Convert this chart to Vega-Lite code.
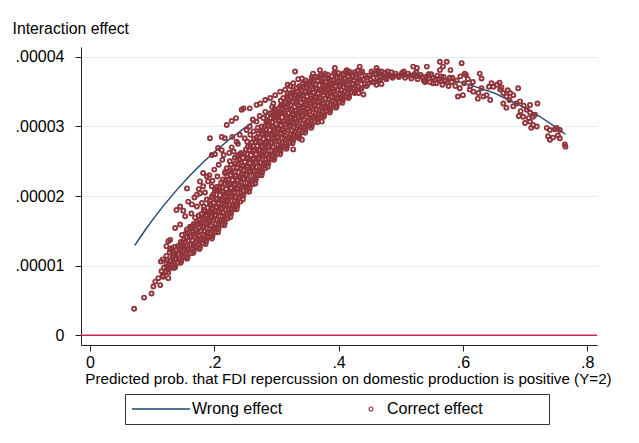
{
"$schema":"https://vega.github.io/schema/vega-lite/v6.json",
"width":516,"height":298,
"autosize":{"type":"none"},
"padding":{"left":81,"top":47,"right":42,"bottom":98},
"background":"white",
"config":{"view":{"stroke":null},"font":"Liberation Sans"},
"datasets":{
"wrong":[
{"p":0.072,"e":1.290e-5},{"p":0.08,"e":1.397e-5},{"p":0.09,"e":1.526e-5},{"p":0.10,"e":1.650e-5},{"p":0.12,"e":1.880e-5},{"p":0.14,"e":2.092e-5},{"p":0.16,"e":2.287e-5},{"p":0.18,"e":2.466e-5},{"p":0.20,"e":2.632e-5},{"p":0.225,"e":2.819e-5},{"p":0.25,"e":2.987e-5},{"p":0.275,"e":3.136e-5},{"p":0.30,"e":3.268e-5},{"p":0.35,"e":3.482e-5},{"p":0.40,"e":3.631e-5},{"p":0.45,"e":3.721e-5},{"p":0.50,"e":3.750e-5},{"p":0.55,"e":3.721e-5},{"p":0.60,"e":3.631e-5},{"p":0.65,"e":3.482e-5},{"p":0.70,"e":3.268e-5},{"p":0.725,"e":3.136e-5},{"p":0.75,"e":2.987e-5},{"p":0.765,"e":2.888e-5}
],
"correct":[
{"p":0.071,"e":0.38e-5},{"p":0.087,"e":0.54e-5},{"p":0.099,"e":0.60e-5},{"p":0.102,"e":0.70e-5},{"p":0.105,"e":0.77e-5},{"p":0.110,"e":0.82e-5},{"p":0.113,"e":0.72e-5},{"p":0.115,"e":0.92e-5},{"p":0.118,"e":0.84e-5},{"p":0.126,"e":0.82e-5},{"p":0.117,"e":1.09e-5},{"p":0.114,"e":1.06e-5},{"p":0.134,"e":0.97e-5},{"p":0.129,"e":1.23e-5},{"p":0.137,"e":1.18e-5},{"p":0.123,"e":1.28e-5},{"p":0.126,"e":1.35e-5},{"p":0.129,"e":1.37e-5},{"p":0.145,"e":1.25e-5},{"p":0.150,"e":1.28e-5},
{"p":0.139,"e":1.80e-5},{"p":0.145,"e":1.85e-5},{"p":0.150,"e":1.79e-5},{"p":0.137,"e":1.54e-5},{"p":0.148,"e":1.44e-5},{"p":0.156,"e":1.52e-5},{"p":0.161,"e":1.56e-5},{"p":0.145,"e":1.59e-5},{"p":0.153,"e":1.71e-5},{"p":0.164,"e":1.88e-5},{"p":0.172,"e":1.85e-5},{"p":0.158,"e":1.92e-5},{"p":0.172,"e":2.02e-5},{"p":0.177,"e":2.04e-5},{"p":0.156,"e":2.11e-5},{"p":0.182,"e":2.33e-5},{"p":0.188,"e":2.28e-5},{"p":0.190,"e":2.21e-5},{"p":0.177,"e":2.21e-5},{"p":0.182,"e":2.14e-5},{"p":0.196,"e":2.14e-5},{"p":0.204,"e":2.09e-5},
{"p":0.193,"e":2.83e-5},{"p":0.212,"e":2.85e-5},{"p":0.217,"e":2.83e-5},{"p":0.220,"e":3.02e-5},{"p":0.228,"e":3.08e-5},{"p":0.235,"e":3.12e-5},{"p":0.244,"e":3.24e-5},{"p":0.247,"e":3.26e-5},{"p":0.257,"e":3.26e-5},{"p":0.268,"e":3.31e-5},{"p":0.274,"e":3.33e-5},{"p":0.282,"e":3.38e-5},{"p":0.290,"e":3.41e-5},{"p":0.298,"e":3.45e-5},{"p":0.306,"e":3.50e-5},{"p":0.314,"e":3.53e-5},
{"p":0.196,"e":2.59e-5},{"p":0.201,"e":2.60e-5},{"p":0.206,"e":2.69e-5},{"p":0.212,"e":2.66e-5},{"p":0.215,"e":2.59e-5},{"p":0.225,"e":2.50e-5},{"p":0.220,"e":2.40e-5},{"p":0.231,"e":2.64e-5},{"p":0.239,"e":2.59e-5},{"p":0.236,"e":2.78e-5},{"p":0.241,"e":2.88e-5},{"p":0.249,"e":2.83e-5},{"p":0.252,"e":2.95e-5},{"p":0.257,"e":3.00e-5},{"p":0.263,"e":2.93e-5},{"p":0.268,"e":3.07e-5},{"p":0.276,"e":3.00e-5},{"p":0.279,"e":3.12e-5},{"p":0.284,"e":3.07e-5},{"p":0.290,"e":3.19e-5},{"p":0.282,"e":3.21e-5},{"p":0.298,"e":3.24e-5},{"p":0.300,"e":3.14e-5},{"p":0.308,"e":3.31e-5},{"p":0.311,"e":3.41e-5},{"p":0.295,"e":3.33e-5},
{"p":0.163,"e":1.75e-5},{"p":0.168,"e":1.98e-5},{"p":0.175,"e":2.10e-5},{"p":0.180,"e":1.90e-5},{"p":0.185,"e":2.05e-5},{"p":0.192,"e":2.30e-5},{"p":0.197,"e":2.22e-5},{"p":0.200,"e":2.38e-5},{"p":0.205,"e":2.28e-5},{"p":0.207,"e":2.45e-5},{"p":0.213,"e":2.52e-5},{"p":0.218,"e":2.35e-5},{"p":0.224,"e":2.62e-5},{"p":0.228,"e":2.70e-5},{"p":0.233,"e":2.55e-5},{"p":0.238,"e":2.75e-5},{"p":0.243,"e":2.62e-5},{"p":0.229,"e":2.85e-5},{"p":0.253,"e":2.78e-5},{"p":0.258,"e":2.88e-5},{"p":0.262,"e":3.10e-5},{"p":0.270,"e":2.98e-5},{"p":0.273,"e":3.15e-5},{"p":0.286,"e":3.15e-5},{"p":0.293,"e":3.28e-5},{"p":0.303,"e":3.20e-5},{"p":0.318,"e":3.48e-5},{"p":0.322,"e":3.58e-5},{"p":0.327,"e":3.62e-5},{"p":0.335,"e":3.68e-5},{"p":0.318,"e":3.60e-5},
{"p":0.330,"e":3.79e-5},{"p":0.341,"e":3.69e-5},{"p":0.359,"e":3.76e-5},{"p":0.370,"e":3.81e-5},{"p":0.394,"e":3.84e-5},{"p":0.413,"e":3.81e-5},{"p":0.434,"e":3.86e-5},{"p":0.461,"e":3.84e-5},{"p":0.520,"e":3.86e-5},{"p":0.526,"e":3.84e-5},{"p":0.542,"e":3.86e-5},{"p":0.563,"e":3.93e-5},{"p":0.574,"e":3.93e-5},{"p":0.568,"e":3.86e-5},{"p":0.598,"e":3.91e-5},{"p":0.563,"e":3.81e-5},{"p":0.580,"e":3.81e-5},
{"p":0.432,"e":3.48e-5},{"p":0.440,"e":3.46e-5},{"p":0.461,"e":3.60e-5},{"p":0.469,"e":3.61e-5},{"p":0.341,"e":2.81e-5},{"p":0.327,"e":2.67e-5},{"p":0.373,"e":3.07e-5},{"p":0.386,"e":3.24e-5},{"p":0.539,"e":3.64e-5},{"p":0.552,"e":3.62e-5},
{"p":0.583,"e":3.70e-5},{"p":0.590,"e":3.66e-5},{"p":0.596,"e":3.72e-5},{"p":0.602,"e":3.62e-5},{"p":0.608,"e":3.68e-5},{"p":0.612,"e":3.58e-5},{"p":0.616,"e":3.64e-5},{"p":0.588,"e":3.58e-5},{"p":0.595,"e":3.55e-5},{"p":0.605,"e":3.74e-5},{"p":0.603,"e":3.76e-5},{"p":0.592,"e":3.43e-5},{"p":0.600,"e":3.45e-5},{"p":0.627,"e":3.76e-5},{"p":0.630,"e":3.69e-5},
{"p":0.611,"e":3.53e-5},{"p":0.617,"e":3.50e-5},{"p":0.625,"e":3.48e-5},{"p":0.630,"e":3.55e-5},{"p":0.633,"e":3.43e-5},{"p":0.638,"e":3.45e-5},{"p":0.644,"e":3.38e-5},{"p":0.624,"e":3.40e-5},{"p":0.642,"e":3.57e-5},{"p":0.646,"e":3.62e-5},{"p":0.649,"e":3.57e-5},{"p":0.659,"e":3.63e-5},{"p":0.655,"e":3.60e-5},
{"p":0.660,"e":3.53e-5},{"p":0.665,"e":3.48e-5},{"p":0.670,"e":3.43e-5},{"p":0.676,"e":3.48e-5},{"p":0.681,"e":3.45e-5},{"p":0.662,"e":3.56e-5},{"p":0.672,"e":3.52e-5},{"p":0.665,"e":3.33e-5},{"p":0.670,"e":3.27e-5},{"p":0.681,"e":3.29e-5},{"p":0.686,"e":3.33e-5},{"p":0.692,"e":3.36e-5},{"p":0.675,"e":3.38e-5},{"p":0.689,"e":3.55e-5},
{"p":0.693,"e":3.22e-5},{"p":0.698,"e":3.30e-5},{"p":0.703,"e":3.24e-5},{"p":0.708,"e":3.31e-5},{"p":0.708,"e":3.20e-5},{"p":0.720,"e":3.33e-5},{"p":0.690,"e":3.15e-5},{"p":0.697,"e":3.14e-5},{"p":0.700,"e":3.05e-5},{"p":0.706,"e":3.12e-5},{"p":0.708,"e":3.07e-5},{"p":0.713,"e":3.02e-5},{"p":0.713,"e":3.14e-5},{"p":0.716,"e":3.17e-5},{"p":0.719,"e":3.00e-5},{"p":0.710,"e":2.98e-5},
{"p":0.735,"e":2.98e-5},{"p":0.740,"e":2.95e-5},{"p":0.751,"e":2.98e-5},{"p":0.756,"e":2.95e-5},{"p":0.737,"e":2.86e-5},{"p":0.745,"e":2.84e-5},{"p":0.753,"e":2.87e-5},{"p":0.756,"e":2.83e-5},{"p":0.764,"e":2.74e-5},{"p":0.765,"e":2.71e-5},{"p":0.740,"e":2.81e-5},{"p":0.748,"e":2.96e-5},
{"p":0.117,"e":0.85e-5},{"p":0.122,"e":0.91e-5},{"p":0.119,"e":0.97e-5},{"p":0.123,"e":1.03e-5},
{"p":0.127,"e":0.95e-5},{"p":0.132,"e":1.01e-5},{"p":0.129,"e":1.07e-5},{"p":0.133,"e":1.13e-5},{"p":0.128,"e":1.19e-5},{"p":0.131,"e":1.25e-5},
{"p":0.137,"e":0.98e-5},{"p":0.142,"e":1.04e-5},{"p":0.139,"e":1.10e-5},{"p":0.143,"e":1.16e-5},{"p":0.138,"e":1.22e-5},{"p":0.141,"e":1.28e-5},
{"p":0.147,"e":1.07e-5},{"p":0.152,"e":1.13e-5},{"p":0.149,"e":1.19e-5},{"p":0.153,"e":1.25e-5},{"p":0.148,"e":1.31e-5},{"p":0.151,"e":1.37e-5},
{"p":0.157,"e":1.12e-5},{"p":0.162,"e":1.18e-5},{"p":0.159,"e":1.24e-5},{"p":0.163,"e":1.30e-5},{"p":0.158,"e":1.36e-5},{"p":0.161,"e":1.42e-5},{"p":0.157,"e":1.48e-5},{"p":0.162,"e":1.54e-5},
{"p":0.167,"e":1.21e-5},{"p":0.172,"e":1.27e-5},{"p":0.169,"e":1.33e-5},{"p":0.173,"e":1.39e-5},{"p":0.168,"e":1.45e-5},{"p":0.171,"e":1.51e-5},{"p":0.167,"e":1.57e-5},{"p":0.172,"e":1.63e-5},{"p":0.169,"e":1.69e-5},
{"p":0.177,"e":1.26e-5},{"p":0.182,"e":1.32e-5},{"p":0.179,"e":1.38e-5},{"p":0.183,"e":1.44e-5},{"p":0.178,"e":1.50e-5},{"p":0.181,"e":1.56e-5},{"p":0.177,"e":1.62e-5},{"p":0.182,"e":1.68e-5},{"p":0.179,"e":1.74e-5},{"p":0.183,"e":1.80e-5},
{"p":0.187,"e":1.35e-5},{"p":0.192,"e":1.41e-5},{"p":0.189,"e":1.47e-5},{"p":0.193,"e":1.53e-5},{"p":0.188,"e":1.59e-5},{"p":0.191,"e":1.65e-5},{"p":0.187,"e":1.71e-5},{"p":0.192,"e":1.77e-5},{"p":0.189,"e":1.83e-5},{"p":0.193,"e":1.89e-5},{"p":0.188,"e":1.95e-5},
{"p":0.197,"e":1.42e-5},{"p":0.202,"e":1.48e-5},{"p":0.199,"e":1.54e-5},{"p":0.203,"e":1.60e-5},{"p":0.198,"e":1.66e-5},{"p":0.201,"e":1.72e-5},{"p":0.197,"e":1.78e-5},{"p":0.202,"e":1.84e-5},{"p":0.199,"e":1.90e-5},{"p":0.203,"e":1.96e-5},{"p":0.198,"e":2.02e-5},{"p":0.201,"e":2.08e-5},
{"p":0.207,"e":1.53e-5},{"p":0.212,"e":1.59e-5},{"p":0.209,"e":1.65e-5},{"p":0.213,"e":1.71e-5},{"p":0.208,"e":1.77e-5},{"p":0.211,"e":1.83e-5},{"p":0.207,"e":1.89e-5},{"p":0.212,"e":1.95e-5},{"p":0.209,"e":2.01e-5},{"p":0.213,"e":2.07e-5},{"p":0.208,"e":2.13e-5},{"p":0.211,"e":2.19e-5},
{"p":0.217,"e":1.62e-5},{"p":0.222,"e":1.68e-5},{"p":0.219,"e":1.74e-5},{"p":0.223,"e":1.80e-5},{"p":0.218,"e":1.86e-5},{"p":0.221,"e":1.92e-5},{"p":0.217,"e":1.98e-5},{"p":0.222,"e":2.04e-5},{"p":0.219,"e":2.10e-5},{"p":0.223,"e":2.16e-5},{"p":0.218,"e":2.22e-5},{"p":0.221,"e":2.28e-5},{"p":0.217,"e":2.33e-5},
{"p":0.227,"e":1.75e-5},{"p":0.232,"e":1.81e-5},{"p":0.229,"e":1.87e-5},{"p":0.233,"e":1.93e-5},{"p":0.228,"e":1.99e-5},{"p":0.231,"e":2.05e-5},{"p":0.227,"e":2.11e-5},{"p":0.232,"e":2.17e-5},{"p":0.229,"e":2.23e-5},{"p":0.233,"e":2.29e-5},{"p":0.228,"e":2.35e-5},{"p":0.231,"e":2.41e-5},{"p":0.227,"e":2.45e-5},
{"p":0.237,"e":1.86e-5},{"p":0.242,"e":1.92e-5},{"p":0.239,"e":1.98e-5},{"p":0.243,"e":2.04e-5},{"p":0.238,"e":2.10e-5},{"p":0.241,"e":2.16e-5},{"p":0.237,"e":2.22e-5},{"p":0.242,"e":2.28e-5},{"p":0.239,"e":2.34e-5},{"p":0.243,"e":2.40e-5},{"p":0.238,"e":2.46e-5},{"p":0.241,"e":2.52e-5},{"p":0.237,"e":2.57e-5},
{"p":0.247,"e":2.01e-5},{"p":0.252,"e":2.07e-5},{"p":0.249,"e":2.13e-5},{"p":0.253,"e":2.19e-5},{"p":0.248,"e":2.25e-5},{"p":0.251,"e":2.31e-5},{"p":0.247,"e":2.37e-5},{"p":0.252,"e":2.43e-5},{"p":0.249,"e":2.49e-5},{"p":0.253,"e":2.55e-5},{"p":0.248,"e":2.61e-5},{"p":0.251,"e":2.67e-5},
{"p":0.257,"e":2.11e-5},{"p":0.262,"e":2.17e-5},{"p":0.259,"e":2.23e-5},{"p":0.263,"e":2.29e-5},{"p":0.258,"e":2.35e-5},{"p":0.261,"e":2.41e-5},{"p":0.257,"e":2.47e-5},{"p":0.262,"e":2.53e-5},{"p":0.259,"e":2.59e-5},{"p":0.263,"e":2.65e-5},{"p":0.258,"e":2.71e-5},{"p":0.261,"e":2.77e-5},
{"p":0.267,"e":2.24e-5},{"p":0.272,"e":2.30e-5},{"p":0.269,"e":2.36e-5},{"p":0.273,"e":2.42e-5},{"p":0.268,"e":2.48e-5},{"p":0.271,"e":2.54e-5},{"p":0.267,"e":2.60e-5},{"p":0.272,"e":2.66e-5},{"p":0.269,"e":2.72e-5},{"p":0.273,"e":2.78e-5},{"p":0.268,"e":2.84e-5},{"p":0.271,"e":2.90e-5},
{"p":0.277,"e":2.34e-5},{"p":0.282,"e":2.40e-5},{"p":0.279,"e":2.46e-5},{"p":0.283,"e":2.52e-5},{"p":0.278,"e":2.58e-5},{"p":0.281,"e":2.64e-5},{"p":0.277,"e":2.70e-5},{"p":0.282,"e":2.76e-5},{"p":0.279,"e":2.82e-5},{"p":0.283,"e":2.88e-5},{"p":0.278,"e":2.94e-5},{"p":0.281,"e":3.00e-5},
{"p":0.287,"e":2.47e-5},{"p":0.292,"e":2.53e-5},{"p":0.289,"e":2.59e-5},{"p":0.293,"e":2.65e-5},{"p":0.288,"e":2.71e-5},{"p":0.291,"e":2.77e-5},{"p":0.287,"e":2.83e-5},{"p":0.292,"e":2.89e-5},{"p":0.289,"e":2.95e-5},{"p":0.293,"e":3.01e-5},{"p":0.288,"e":3.07e-5},{"p":0.291,"e":3.12e-5},
{"p":0.297,"e":2.55e-5},{"p":0.302,"e":2.61e-5},{"p":0.299,"e":2.67e-5},{"p":0.303,"e":2.73e-5},{"p":0.298,"e":2.79e-5},{"p":0.301,"e":2.85e-5},{"p":0.297,"e":2.91e-5},{"p":0.302,"e":2.97e-5},{"p":0.299,"e":3.03e-5},{"p":0.303,"e":3.09e-5},{"p":0.298,"e":3.15e-5},{"p":0.301,"e":3.21e-5},{"p":0.297,"e":3.25e-5},
{"p":0.307,"e":2.65e-5},{"p":0.312,"e":2.71e-5},{"p":0.309,"e":2.77e-5},{"p":0.313,"e":2.83e-5},{"p":0.308,"e":2.89e-5},{"p":0.311,"e":2.95e-5},{"p":0.307,"e":3.01e-5},{"p":0.312,"e":3.07e-5},{"p":0.309,"e":3.13e-5},{"p":0.313,"e":3.19e-5},{"p":0.308,"e":3.25e-5},{"p":0.311,"e":3.31e-5},{"p":0.307,"e":3.37e-5},
{"p":0.317,"e":2.71e-5},{"p":0.322,"e":2.77e-5},{"p":0.319,"e":2.83e-5},{"p":0.323,"e":2.89e-5},{"p":0.318,"e":2.95e-5},{"p":0.321,"e":3.01e-5},{"p":0.317,"e":3.07e-5},{"p":0.322,"e":3.13e-5},{"p":0.319,"e":3.19e-5},{"p":0.323,"e":3.25e-5},{"p":0.318,"e":3.31e-5},{"p":0.321,"e":3.37e-5},{"p":0.317,"e":3.43e-5},{"p":0.322,"e":3.47e-5},
{"p":0.327,"e":2.80e-5},{"p":0.332,"e":2.86e-5},{"p":0.329,"e":2.92e-5},{"p":0.333,"e":2.98e-5},{"p":0.328,"e":3.04e-5},{"p":0.331,"e":3.10e-5},{"p":0.327,"e":3.16e-5},{"p":0.332,"e":3.22e-5},{"p":0.329,"e":3.28e-5},{"p":0.333,"e":3.34e-5},{"p":0.328,"e":3.40e-5},{"p":0.331,"e":3.46e-5},{"p":0.327,"e":3.52e-5},{"p":0.332,"e":3.55e-5},
{"p":0.337,"e":2.86e-5},{"p":0.342,"e":2.92e-5},{"p":0.339,"e":2.98e-5},{"p":0.343,"e":3.04e-5},{"p":0.338,"e":3.10e-5},{"p":0.341,"e":3.16e-5},{"p":0.337,"e":3.22e-5},{"p":0.342,"e":3.28e-5},{"p":0.339,"e":3.34e-5},{"p":0.343,"e":3.40e-5},{"p":0.338,"e":3.46e-5},{"p":0.341,"e":3.52e-5},{"p":0.337,"e":3.58e-5},{"p":0.342,"e":3.61e-5},
{"p":0.347,"e":2.95e-5},{"p":0.352,"e":3.01e-5},{"p":0.349,"e":3.07e-5},{"p":0.353,"e":3.13e-5},{"p":0.348,"e":3.19e-5},{"p":0.351,"e":3.25e-5},{"p":0.347,"e":3.31e-5},{"p":0.352,"e":3.37e-5},{"p":0.349,"e":3.43e-5},{"p":0.353,"e":3.49e-5},{"p":0.348,"e":3.55e-5},{"p":0.351,"e":3.61e-5},{"p":0.347,"e":3.66e-5},
{"p":0.357,"e":3.01e-5},{"p":0.362,"e":3.07e-5},{"p":0.359,"e":3.13e-5},{"p":0.363,"e":3.19e-5},{"p":0.358,"e":3.25e-5},{"p":0.361,"e":3.31e-5},{"p":0.357,"e":3.37e-5},{"p":0.362,"e":3.43e-5},{"p":0.359,"e":3.49e-5},{"p":0.363,"e":3.55e-5},{"p":0.358,"e":3.61e-5},{"p":0.361,"e":3.67e-5},{"p":0.357,"e":3.71e-5},
{"p":0.367,"e":3.11e-5},{"p":0.372,"e":3.17e-5},{"p":0.369,"e":3.23e-5},{"p":0.373,"e":3.29e-5},{"p":0.368,"e":3.35e-5},{"p":0.371,"e":3.41e-5},{"p":0.367,"e":3.47e-5},{"p":0.372,"e":3.53e-5},{"p":0.369,"e":3.59e-5},{"p":0.373,"e":3.65e-5},{"p":0.368,"e":3.71e-5},{"p":0.371,"e":3.74e-5},
{"p":0.377,"e":3.16e-5},{"p":0.382,"e":3.22e-5},{"p":0.379,"e":3.28e-5},{"p":0.383,"e":3.34e-5},{"p":0.378,"e":3.40e-5},{"p":0.381,"e":3.46e-5},{"p":0.377,"e":3.52e-5},{"p":0.382,"e":3.58e-5},{"p":0.379,"e":3.64e-5},{"p":0.383,"e":3.70e-5},{"p":0.378,"e":3.76e-5},
{"p":0.387,"e":3.24e-5},{"p":0.392,"e":3.30e-5},{"p":0.389,"e":3.36e-5},{"p":0.393,"e":3.42e-5},{"p":0.388,"e":3.48e-5},{"p":0.391,"e":3.54e-5},{"p":0.387,"e":3.60e-5},{"p":0.392,"e":3.66e-5},{"p":0.389,"e":3.72e-5},{"p":0.393,"e":3.77e-5},
{"p":0.397,"e":3.29e-5},{"p":0.402,"e":3.35e-5},{"p":0.399,"e":3.41e-5},{"p":0.403,"e":3.47e-5},{"p":0.398,"e":3.53e-5},{"p":0.401,"e":3.59e-5},{"p":0.397,"e":3.65e-5},{"p":0.402,"e":3.71e-5},{"p":0.399,"e":3.77e-5},
{"p":0.407,"e":3.38e-5},{"p":0.412,"e":3.44e-5},{"p":0.409,"e":3.50e-5},{"p":0.413,"e":3.56e-5},{"p":0.408,"e":3.62e-5},{"p":0.411,"e":3.68e-5},{"p":0.407,"e":3.74e-5},{"p":0.412,"e":3.79e-5},
{"p":0.417,"e":3.43e-5},{"p":0.422,"e":3.49e-5},{"p":0.419,"e":3.55e-5},{"p":0.423,"e":3.61e-5},{"p":0.418,"e":3.67e-5},{"p":0.421,"e":3.73e-5},{"p":0.417,"e":3.79e-5},
{"p":0.427,"e":3.51e-5},{"p":0.432,"e":3.57e-5},{"p":0.429,"e":3.63e-5},{"p":0.433,"e":3.69e-5},{"p":0.428,"e":3.75e-5},{"p":0.431,"e":3.80e-5},
{"p":0.437,"e":3.55e-5},{"p":0.442,"e":3.61e-5},{"p":0.439,"e":3.67e-5},{"p":0.443,"e":3.73e-5},{"p":0.438,"e":3.79e-5},
{"p":0.447,"e":3.61e-5},{"p":0.452,"e":3.67e-5},{"p":0.449,"e":3.73e-5},{"p":0.453,"e":3.79e-5},
{"p":0.457,"e":3.63e-5},{"p":0.462,"e":3.69e-5},{"p":0.459,"e":3.75e-5},{"p":0.463,"e":3.80e-5},
{"p":0.467,"e":3.67e-5},{"p":0.472,"e":3.73e-5},{"p":0.469,"e":3.79e-5},
{"p":0.477,"e":3.68e-5},{"p":0.482,"e":3.74e-5},{"p":0.479,"e":3.79e-5},
{"p":0.487,"e":3.70e-5},{"p":0.492,"e":3.76e-5},{"p":0.497,"e":3.71e-5},{"p":0.502,"e":3.77e-5},{"p":0.507,"e":3.70e-5},{"p":0.512,"e":3.76e-5},{"p":0.517,"e":3.69e-5},{"p":0.522,"e":3.75e-5},{"p":0.527,"e":3.68e-5},{"p":0.532,"e":3.74e-5},{"p":0.537,"e":3.66e-5},{"p":0.542,"e":3.72e-5},
{"p":0.547,"e":3.64e-5},{"p":0.552,"e":3.70e-5},{"p":0.549,"e":3.75e-5},{"p":0.557,"e":3.62e-5},{"p":0.562,"e":3.68e-5},{"p":0.559,"e":3.73e-5},{"p":0.567,"e":3.60e-5},{"p":0.572,"e":3.66e-5},{"p":0.569,"e":3.71e-5},{"p":0.577,"e":3.58e-5},{"p":0.582,"e":3.64e-5},{"p":0.579,"e":3.70e-5},
{"p":0.435,"e":3.54e-5},{"p":0.435,"e":3.66e-5},{"p":0.435,"e":3.77e-5},{"p":0.445,"e":3.58e-5},{"p":0.445,"e":3.70e-5},{"p":0.455,"e":3.64e-5},{"p":0.455,"e":3.76e-5},{"p":0.465,"e":3.66e-5},{"p":0.465,"e":3.78e-5},{"p":0.475,"e":3.70e-5},{"p":0.475,"e":3.77e-5},{"p":0.485,"e":3.72e-5},{"p":0.485,"e":3.78e-5},{"p":0.495,"e":3.73e-5},{"p":0.505,"e":3.74e-5},{"p":0.505,"e":3.79e-5},{"p":0.515,"e":3.73e-5},{"p":0.525,"e":3.72e-5},{"p":0.525,"e":3.78e-5},{"p":0.535,"e":3.71e-5},{"p":0.545,"e":3.69e-5},{"p":0.545,"e":3.75e-5},{"p":0.555,"e":3.67e-5},{"p":0.565,"e":3.65e-5},{"p":0.565,"e":3.72e-5},{"p":0.575,"e":3.63e-5},
{"p":0.126,"e":0.90e-5},{"p":0.124,"e":0.96e-5},{"p":0.127,"e":1.02e-5},{"p":0.125,"e":1.08e-5},{"p":0.123,"e":1.14e-5},
{"p":0.136,"e":0.97e-5},{"p":0.134,"e":1.03e-5},{"p":0.137,"e":1.09e-5},{"p":0.135,"e":1.15e-5},{"p":0.133,"e":1.21e-5},{"p":0.136,"e":1.27e-5},
{"p":0.146,"e":1.04e-5},{"p":0.144,"e":1.10e-5},{"p":0.147,"e":1.16e-5},{"p":0.145,"e":1.22e-5},{"p":0.143,"e":1.28e-5},{"p":0.146,"e":1.34e-5},
{"p":0.156,"e":1.10e-5},{"p":0.154,"e":1.16e-5},{"p":0.157,"e":1.22e-5},{"p":0.155,"e":1.28e-5},{"p":0.153,"e":1.34e-5},{"p":0.156,"e":1.40e-5},{"p":0.154,"e":1.46e-5},
{"p":0.166,"e":1.18e-5},{"p":0.164,"e":1.24e-5},{"p":0.167,"e":1.30e-5},{"p":0.165,"e":1.36e-5},{"p":0.163,"e":1.42e-5},{"p":0.166,"e":1.48e-5},{"p":0.164,"e":1.54e-5},{"p":0.167,"e":1.60e-5},
{"p":0.176,"e":1.24e-5},{"p":0.174,"e":1.30e-5},{"p":0.177,"e":1.36e-5},{"p":0.175,"e":1.42e-5},{"p":0.173,"e":1.48e-5},{"p":0.176,"e":1.54e-5},{"p":0.174,"e":1.60e-5},{"p":0.177,"e":1.66e-5},{"p":0.175,"e":1.72e-5},
{"p":0.186,"e":1.31e-5},{"p":0.184,"e":1.37e-5},{"p":0.187,"e":1.43e-5},{"p":0.185,"e":1.49e-5},{"p":0.183,"e":1.55e-5},{"p":0.186,"e":1.61e-5},{"p":0.184,"e":1.67e-5},{"p":0.187,"e":1.73e-5},{"p":0.185,"e":1.79e-5},{"p":0.183,"e":1.85e-5},
{"p":0.196,"e":1.39e-5},{"p":0.194,"e":1.45e-5},{"p":0.197,"e":1.51e-5},{"p":0.195,"e":1.57e-5},{"p":0.193,"e":1.63e-5},{"p":0.196,"e":1.69e-5},{"p":0.194,"e":1.75e-5},{"p":0.197,"e":1.81e-5},{"p":0.195,"e":1.87e-5},{"p":0.193,"e":1.93e-5},{"p":0.196,"e":1.99e-5},
{"p":0.206,"e":1.48e-5},{"p":0.204,"e":1.54e-5},{"p":0.207,"e":1.60e-5},{"p":0.205,"e":1.66e-5},{"p":0.203,"e":1.72e-5},{"p":0.206,"e":1.78e-5},{"p":0.204,"e":1.84e-5},{"p":0.207,"e":1.90e-5},{"p":0.205,"e":1.96e-5},{"p":0.203,"e":2.02e-5},{"p":0.206,"e":2.08e-5},{"p":0.204,"e":2.13e-5},
{"p":0.216,"e":1.58e-5},{"p":0.214,"e":1.64e-5},{"p":0.217,"e":1.70e-5},{"p":0.215,"e":1.76e-5},{"p":0.213,"e":1.82e-5},{"p":0.216,"e":1.88e-5},{"p":0.214,"e":1.94e-5},{"p":0.217,"e":2.00e-5},{"p":0.215,"e":2.06e-5},{"p":0.213,"e":2.12e-5},{"p":0.216,"e":2.18e-5},{"p":0.214,"e":2.24e-5},
{"p":0.226,"e":1.70e-5},{"p":0.224,"e":1.76e-5},{"p":0.227,"e":1.82e-5},{"p":0.225,"e":1.88e-5},{"p":0.223,"e":1.94e-5},{"p":0.226,"e":2.00e-5},{"p":0.224,"e":2.06e-5},{"p":0.227,"e":2.12e-5},{"p":0.225,"e":2.18e-5},{"p":0.223,"e":2.24e-5},{"p":0.226,"e":2.30e-5},{"p":0.224,"e":2.36e-5},
{"p":0.236,"e":1.81e-5},{"p":0.234,"e":1.87e-5},{"p":0.237,"e":1.93e-5},{"p":0.235,"e":1.99e-5},{"p":0.233,"e":2.05e-5},{"p":0.236,"e":2.11e-5},{"p":0.234,"e":2.17e-5},{"p":0.237,"e":2.23e-5},{"p":0.235,"e":2.29e-5},{"p":0.233,"e":2.35e-5},{"p":0.236,"e":2.41e-5},{"p":0.234,"e":2.47e-5},
{"p":0.246,"e":1.95e-5},{"p":0.244,"e":2.01e-5},{"p":0.247,"e":2.07e-5},{"p":0.245,"e":2.13e-5},{"p":0.243,"e":2.19e-5},{"p":0.246,"e":2.25e-5},{"p":0.244,"e":2.31e-5},{"p":0.247,"e":2.37e-5},{"p":0.245,"e":2.43e-5},{"p":0.243,"e":2.49e-5},{"p":0.246,"e":2.55e-5},{"p":0.244,"e":2.60e-5},
{"p":0.256,"e":2.06e-5},{"p":0.254,"e":2.12e-5},{"p":0.257,"e":2.18e-5},{"p":0.255,"e":2.24e-5},{"p":0.253,"e":2.30e-5},{"p":0.256,"e":2.36e-5},{"p":0.254,"e":2.42e-5},{"p":0.257,"e":2.48e-5},{"p":0.255,"e":2.54e-5},{"p":0.253,"e":2.60e-5},{"p":0.256,"e":2.66e-5},{"p":0.254,"e":2.71e-5},
{"p":0.266,"e":2.18e-5},{"p":0.264,"e":2.24e-5},{"p":0.267,"e":2.30e-5},{"p":0.265,"e":2.36e-5},{"p":0.263,"e":2.42e-5},{"p":0.266,"e":2.48e-5},{"p":0.264,"e":2.54e-5},{"p":0.267,"e":2.60e-5},{"p":0.265,"e":2.66e-5},{"p":0.263,"e":2.72e-5},{"p":0.266,"e":2.78e-5},{"p":0.264,"e":2.82e-5},
{"p":0.276,"e":2.30e-5},{"p":0.274,"e":2.36e-5},{"p":0.277,"e":2.42e-5},{"p":0.275,"e":2.48e-5},{"p":0.273,"e":2.54e-5},{"p":0.276,"e":2.60e-5},{"p":0.274,"e":2.66e-5},{"p":0.277,"e":2.72e-5},{"p":0.275,"e":2.78e-5},{"p":0.273,"e":2.84e-5},{"p":0.276,"e":2.90e-5},{"p":0.274,"e":2.94e-5},
{"p":0.286,"e":2.42e-5},{"p":0.284,"e":2.48e-5},{"p":0.287,"e":2.54e-5},{"p":0.285,"e":2.60e-5},{"p":0.283,"e":2.66e-5},{"p":0.286,"e":2.72e-5},{"p":0.284,"e":2.78e-5},{"p":0.287,"e":2.84e-5},{"p":0.285,"e":2.90e-5},{"p":0.283,"e":2.96e-5},{"p":0.286,"e":3.02e-5},{"p":0.284,"e":3.05e-5},
{"p":0.296,"e":2.52e-5},{"p":0.294,"e":2.58e-5},{"p":0.297,"e":2.64e-5},{"p":0.295,"e":2.70e-5},{"p":0.293,"e":2.76e-5},{"p":0.296,"e":2.82e-5},{"p":0.294,"e":2.88e-5},{"p":0.297,"e":2.94e-5},{"p":0.295,"e":3.00e-5},{"p":0.293,"e":3.06e-5},{"p":0.296,"e":3.12e-5},{"p":0.294,"e":3.17e-5},
{"p":0.306,"e":2.60e-5},{"p":0.304,"e":2.66e-5},{"p":0.307,"e":2.72e-5},{"p":0.305,"e":2.78e-5},{"p":0.303,"e":2.84e-5},{"p":0.306,"e":2.90e-5},{"p":0.304,"e":2.96e-5},{"p":0.307,"e":3.02e-5},{"p":0.305,"e":3.08e-5},{"p":0.303,"e":3.14e-5},{"p":0.306,"e":3.20e-5},{"p":0.304,"e":3.26e-5},{"p":0.307,"e":3.30e-5},
{"p":0.316,"e":2.68e-5},{"p":0.314,"e":2.74e-5},{"p":0.317,"e":2.80e-5},{"p":0.315,"e":2.86e-5},{"p":0.313,"e":2.92e-5},{"p":0.316,"e":2.98e-5},{"p":0.314,"e":3.04e-5},{"p":0.317,"e":3.10e-5},{"p":0.315,"e":3.16e-5},{"p":0.313,"e":3.22e-5},{"p":0.316,"e":3.28e-5},{"p":0.314,"e":3.34e-5},{"p":0.317,"e":3.40e-5},
{"p":0.326,"e":2.76e-5},{"p":0.324,"e":2.82e-5},{"p":0.327,"e":2.88e-5},{"p":0.325,"e":2.94e-5},{"p":0.323,"e":3.00e-5},{"p":0.326,"e":3.06e-5},{"p":0.324,"e":3.12e-5},{"p":0.327,"e":3.18e-5},{"p":0.325,"e":3.24e-5},{"p":0.323,"e":3.30e-5},{"p":0.326,"e":3.36e-5},{"p":0.324,"e":3.42e-5},{"p":0.327,"e":3.48e-5},
{"p":0.336,"e":2.83e-5},{"p":0.334,"e":2.89e-5},{"p":0.337,"e":2.95e-5},{"p":0.335,"e":3.01e-5},{"p":0.333,"e":3.07e-5},{"p":0.336,"e":3.13e-5},{"p":0.334,"e":3.19e-5},{"p":0.337,"e":3.25e-5},{"p":0.335,"e":3.31e-5},{"p":0.333,"e":3.37e-5},{"p":0.336,"e":3.43e-5},{"p":0.334,"e":3.49e-5},{"p":0.337,"e":3.55e-5},
{"p":0.346,"e":2.91e-5},{"p":0.344,"e":2.97e-5},{"p":0.347,"e":3.03e-5},{"p":0.345,"e":3.09e-5},{"p":0.343,"e":3.15e-5},{"p":0.346,"e":3.21e-5},{"p":0.344,"e":3.27e-5},{"p":0.347,"e":3.33e-5},{"p":0.345,"e":3.39e-5},{"p":0.343,"e":3.45e-5},{"p":0.346,"e":3.51e-5},{"p":0.344,"e":3.57e-5},{"p":0.347,"e":3.62e-5},
{"p":0.356,"e":2.98e-5},{"p":0.354,"e":3.04e-5},{"p":0.357,"e":3.10e-5},{"p":0.355,"e":3.16e-5},{"p":0.353,"e":3.22e-5},{"p":0.356,"e":3.28e-5},{"p":0.354,"e":3.34e-5},{"p":0.357,"e":3.40e-5},{"p":0.355,"e":3.46e-5},{"p":0.353,"e":3.52e-5},{"p":0.356,"e":3.58e-5},{"p":0.354,"e":3.64e-5},{"p":0.357,"e":3.68e-5},
{"p":0.366,"e":3.06e-5},{"p":0.364,"e":3.12e-5},{"p":0.367,"e":3.18e-5},{"p":0.365,"e":3.24e-5},{"p":0.363,"e":3.30e-5},{"p":0.366,"e":3.36e-5},{"p":0.364,"e":3.42e-5},{"p":0.367,"e":3.48e-5},{"p":0.365,"e":3.54e-5},{"p":0.363,"e":3.60e-5},{"p":0.366,"e":3.66e-5},{"p":0.364,"e":3.71e-5},
{"p":0.376,"e":3.14e-5},{"p":0.374,"e":3.20e-5},{"p":0.377,"e":3.26e-5},{"p":0.375,"e":3.32e-5},{"p":0.373,"e":3.38e-5},{"p":0.376,"e":3.44e-5},{"p":0.374,"e":3.50e-5},{"p":0.377,"e":3.56e-5},{"p":0.375,"e":3.62e-5},{"p":0.373,"e":3.68e-5},{"p":0.376,"e":3.74e-5},
{"p":0.386,"e":3.20e-5},{"p":0.384,"e":3.26e-5},{"p":0.387,"e":3.32e-5},{"p":0.385,"e":3.38e-5},{"p":0.383,"e":3.44e-5},{"p":0.386,"e":3.50e-5},{"p":0.384,"e":3.56e-5},{"p":0.387,"e":3.62e-5},{"p":0.385,"e":3.68e-5},{"p":0.383,"e":3.74e-5},
{"p":0.396,"e":3.27e-5},{"p":0.394,"e":3.33e-5},{"p":0.397,"e":3.39e-5},{"p":0.395,"e":3.45e-5},{"p":0.393,"e":3.51e-5},{"p":0.396,"e":3.57e-5},{"p":0.394,"e":3.63e-5},{"p":0.397,"e":3.69e-5},{"p":0.395,"e":3.75e-5},
{"p":0.406,"e":3.34e-5},{"p":0.404,"e":3.40e-5},{"p":0.407,"e":3.46e-5},{"p":0.405,"e":3.52e-5},{"p":0.403,"e":3.58e-5},{"p":0.406,"e":3.64e-5},{"p":0.404,"e":3.70e-5},{"p":0.407,"e":3.76e-5},
{"p":0.416,"e":3.41e-5},{"p":0.414,"e":3.47e-5},{"p":0.417,"e":3.53e-5},{"p":0.415,"e":3.59e-5},{"p":0.413,"e":3.65e-5},{"p":0.416,"e":3.71e-5},{"p":0.414,"e":3.77e-5},
{"p":0.426,"e":3.48e-5},{"p":0.424,"e":3.54e-5},{"p":0.427,"e":3.60e-5},{"p":0.425,"e":3.66e-5},{"p":0.423,"e":3.72e-5},{"p":0.426,"e":3.78e-5}
]
},
"encoding":{
"x":{"field":"p","type":"quantitative","title":"Predicted prob. that FDI repercussion on domestic production is positive (Y=2)",
"scale":{"domain":[-0.0145,0.8158],"nice":false,"zero":false},
"axis":{"values":[0,0.2,0.4,0.6,0.8],"labelExpr":"datum.value == 0 ? '0' : substring(format(datum.value, '.1f'), 1)","grid":false,"tickSize":6,"tickColor":"#222","domainColor":"#222","labelFontSize":16,"labelColor":"#000","labelBaseline":"alphabetic","labelPadding":16,"titleFontSize":15.2,"titleFontWeight":"normal","titleColor":"#000","titleX":267,"titleY":38,"titleAlign":"center","titleBaseline":"alphabetic"}},
"y":{"field":"e","type":"quantitative","title":"Interaction effect",
"scale":{"domain":[-1.41e-6,4.142e-5],"nice":false,"zero":false},
"axis":{"values":[0,0.00001,0.00002,0.00003,0.00004],"labelExpr":"datum.value == 0 ? '0' : substring(format(datum.value, '.5f'), 1)","grid":true,"gridColor":"#e6eef0","gridWidth":1,"tickSize":6,"tickColor":"#222","domainColor":"#222","labelFontSize":16,"labelColor":"#000","labelPadding":11,"titleFontSize":15.8,"titleFontWeight":"normal","titleColor":"#000","titleAngle":0,"titleX":-69,"titleY":-14,"titleAlign":"left","titleBaseline":"alphabetic"}}
},
"layer":[
{"data":{"name":"wrong"},"mark":{"type":"line","strokeWidth":1.4},
"encoding":{"color":{"datum":"Wrong effect","type":"nominal","scale":{"domain":["Wrong effect","Correct effect"],"range":["#1a476f","#90353b"]},
"legend":{"orient":"none","legendX":44,"legendY":347,"direction":"horizontal","columns":2,"title":"\u00a0","titleOrient":"right","titlePadding":59,"titleFontSize":16,"strokeColor":"#333","fillColor":"white","padding":7,"cornerRadius":0,"labelFontSize":16,"labelColor":"#000","labelOffset":44,"columnPadding":44,"symbolSize":16,
"encode":{"symbols":{"update":{"shape":{"signal":"datum.value === 'Wrong effect' ? 'M-4,0H25' : 'M17,0A1,1,0,1,1,19,0A1,1,0,1,1,17,0Z'"},"strokeWidth":{"signal":"datum.value === 'Wrong effect' ? 1.5 : 1.1"},"fill":{"value":"transparent"}}}}}}}},
{"data":{"name":"correct"},"mark":{"type":"point","filled":false,"size":16,"strokeWidth":1.9,"opacity":1},
"encoding":{"color":{"datum":"Correct effect","type":"nominal"}}},
{"data":{"values":[{"e":0}]},"mark":{"type":"rule","color":"#c9264f","strokeWidth":1.5},"encoding":{"y":{"field":"e","type":"quantitative"},"x":null}}
]
}
